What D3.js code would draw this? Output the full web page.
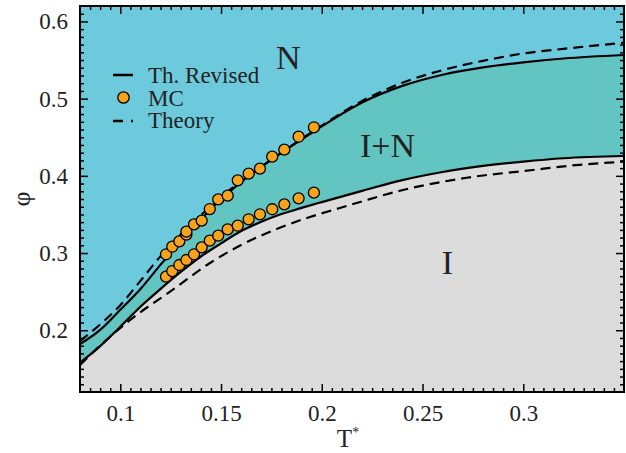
<!DOCTYPE html>
<html>
<head>
<meta charset="utf-8">
<script src="https://cdn.jsdelivr.net/npm/d3@7"></script>
<style>
  body { margin: 0; background: #fff; }
  svg { display: block; }
  text { font-family: "Liberation Serif", "Times New Roman", serif; fill: #222; }
</style>
</head>
<body>
<svg id="chart" width="626" height="453"></svg>
<script>
// revised theory binodals (solid lines)
const revisedT     = [0.08, 0.09, 0.10, 0.11, 0.12, 0.13, 0.14, 0.15, 0.16, 0.17, 0.18, 0.19, 0.20, 0.22, 0.24, 0.26, 0.28, 0.30, 0.32, 0.35];
const revisedUpper = [0.182, 0.2005, 0.2265, 0.2535, 0.285, 0.315, 0.3435, 0.370, 0.392, 0.4115, 0.430, 0.447, 0.464, 0.495, 0.5165, 0.531, 0.5405, 0.547, 0.552, 0.5565];
const revisedLower = [0.158, 0.1795, 0.2045, 0.2305, 0.2535, 0.2755, 0.2955, 0.3125, 0.3285, 0.3405, 0.3505, 0.3585, 0.366, 0.3805, 0.3945, 0.405, 0.4128, 0.4185, 0.4228, 0.4257];

// original theory (dashed lines)
const theoryUpperT = [0.08, 0.09, 0.10, 0.11, 0.12, 0.13, 0.14, 0.15, 0.16, 0.17, 0.18, 0.19, 0.20, 0.22, 0.24, 0.26, 0.28, 0.30, 0.32, 0.35];
const theoryUpper  = [0.186, 0.2075, 0.2325, 0.264, 0.296, 0.324, 0.349, 0.373, 0.393, 0.412, 0.430, 0.448, 0.465, 0.497, 0.5205, 0.537, 0.549, 0.5585, 0.5645, 0.5725];
const theoryLowerT = [0.08, 0.0949, 0.1081, 0.1247, 0.1445, 0.161, 0.1776, 0.1941, 0.209, 0.2223, 0.2388, 0.2719, 0.3048, 0.3215, 0.35];
const theoryLower  = [0.155, 0.1916, 0.2197, 0.2499, 0.2871, 0.3117, 0.3311, 0.3467, 0.3583, 0.3687, 0.3807, 0.3975, 0.4076, 0.4127, 0.4183];

// Monte Carlo points
const mcUpperT   = [0.1227, 0.1258, 0.1293, 0.1328, 0.1328, 0.1366, 0.1404, 0.1444, 0.1486, 0.1533, 0.1583, 0.1637, 0.1693, 0.1754, 0.1814, 0.1885, 0.1961];
const mcUpperPhi = [0.2984, 0.3082, 0.3152, 0.3238, 0.3277, 0.3372, 0.3419, 0.3570, 0.3696, 0.3743, 0.3942, 0.4028, 0.4093, 0.4248, 0.4339, 0.4507, 0.4629];
const mcLowerT   = [0.1227, 0.1258, 0.1293, 0.1328, 0.1366, 0.1404, 0.1444, 0.1486, 0.1533, 0.1583, 0.1637, 0.1693, 0.1754, 0.1814, 0.1885, 0.1961];
const mcLowerPhi = [0.2694, 0.2767, 0.2845, 0.2910, 0.2984, 0.3074, 0.3160, 0.3225, 0.3307, 0.3354, 0.3437, 0.3502, 0.3567, 0.3631, 0.3709, 0.3782];

const xTicks = [0.1, 0.15, 0.2, 0.25, 0.3];
const yTicks = [0.2, 0.3, 0.4, 0.5, 0.6];
const phaseLabels = [
  {text: "N",   T: 0.1773, phi: 0.538},
  {text: "I+N", T: 0.219,  phi: 0.4245},
  {text: "I",   T: 0.2595, phi: 0.2728}
];
const legendItems = ["Th. Revised", "MC", "Theory"];

const mLeft = 80, mRight = 624, mTop = 6, mBottom = 392;
const svg = d3.select("#chart");

const x = d3.scaleLinear().domain([0.08, 0.35]).range([mLeft, mRight]);
const y = d3.scaleLinear().domain([0.12, 0.62]).range([mBottom, mTop]);

const zip = (ts, ps) => ts.map((t, i) => [t, ps[i]]);
const line = d3.line().x(d => x(d[0])).y(d => y(d[1])).curve(d3.curveMonotoneX);

svg.append("clipPath").attr("id", "plotclip")
  .append("rect").attr("x", mLeft).attr("y", mTop).attr("width", mRight - mLeft).attr("height", mBottom - mTop);

const plot = svg.append("g").attr("clip-path", "url(#plotclip)");

// N region (whole background)
plot.append("rect")
  .attr("x", mLeft).attr("y", mTop).attr("width", mRight - mLeft).attr("height", mBottom - mTop)
  .attr("fill", "#6dcadc");

// I+N coexistence region
const band = revisedT.map((t, i) => ({t: t, lo: revisedLower[i], hi: revisedUpper[i]}));
plot.append("path")
  .datum(band)
  .attr("fill", "#62c5c1")
  .attr("d", d3.area().x(d => x(d.t)).y0(d => y(d.lo)).y1(d => y(d.hi)).curve(d3.curveMonotoneX));

// I region
plot.append("path")
  .datum(band)
  .attr("fill", "#dcdcdc")
  .attr("d", d3.area().x(d => x(d.t)).y0(y(0.12)).y1(d => y(d.lo)).curve(d3.curveMonotoneX));

// dashed theory
[zip(theoryUpperT, theoryUpper), zip(theoryLowerT, theoryLower)].forEach(pts => {
  plot.append("path").datum(pts)
    .attr("fill", "none").attr("stroke", "#000").attr("stroke-width", 2.2)
    .attr("stroke-dasharray", "10,6")
    .attr("d", line);
});

// solid revised
[zip(revisedT, revisedUpper), zip(revisedT, revisedLower)].forEach(pts => {
  plot.append("path").datum(pts)
    .attr("fill", "none").attr("stroke", "#000").attr("stroke-width", 2.2)
    .attr("d", line);
});

// MC circles
const mc = zip(mcUpperT, mcUpperPhi).concat(zip(mcLowerT, mcLowerPhi));
plot.append("g").selectAll("circle")
  .data(mc).join("circle")
  .attr("cx", d => x(d[0])).attr("cy", d => y(d[1])).attr("r", 5.5)
  .attr("fill", "#f8a31c").attr("stroke", "#000").attr("stroke-width", 1.3);

// phase labels
svg.append("g").selectAll("text")
  .data(phaseLabels).join("text")
  .attr("x", d => x(d.T)).attr("y", d => y(d.phi))
  .attr("font-size", 34)
  .text(d => d.text);

// legend
const lg = svg.append("g");
lg.append("line").attr("x1", 113).attr("x2", 133).attr("y1", 75).attr("y2", 75)
  .attr("stroke", "#000").attr("stroke-width", 2.5);
lg.append("circle").attr("cx", 123.5).attr("cy", 97.5).attr("r", 5.7)
  .attr("fill", "#f8a31c").attr("stroke", "#000").attr("stroke-width", 1.3);
lg.append("line").attr("x1", 113).attr("x2", 133).attr("y1", 121).attr("y2", 121)
  .attr("stroke", "#000").attr("stroke-width", 2.5).attr("stroke-dasharray", "10,8");
lg.selectAll("text").data(legendItems).join("text")
  .attr("x", 148).attr("y", (d, i) => 83 + i * 22.5)
  .attr("font-size", 23)
  .text(d => d);

// axes: ticks on all four sides, pointing inward
function styleAxis(g) {
  g.select(".domain").remove();
  g.selectAll(".tick line").attr("stroke", "#000").attr("stroke-width", 1.5);
  g.selectAll(".tick text").attr("font-family", "Liberation Serif, serif").attr("font-size", 23).attr("fill", "#222");
}
const xMinor = d3.range(0.085, 0.35, 0.005).filter(v => Math.abs(v * 20 - Math.round(v * 20)) > 1e-6);
const yMinor = d3.range(0.13, 0.62, 0.01).filter(v => Math.abs(v * 10 - Math.round(v * 10)) > 1e-6);

svg.append("g").attr("transform", `translate(0,${mBottom})`)
  .call(d3.axisBottom(x).tickValues(xTicks).tickSize(-8).tickPadding(13).tickFormat(d3.format("")))
  .call(styleAxis);
svg.append("g").attr("transform", `translate(0,${mBottom})`)
  .call(d3.axisBottom(x).tickValues(xMinor).tickSize(-4).tickFormat(""))
  .call(styleAxis);
svg.append("g").attr("transform", `translate(0,${mTop})`)
  .call(d3.axisTop(x).tickValues(xTicks).tickSize(-8).tickFormat(""))
  .call(styleAxis);
svg.append("g").attr("transform", `translate(0,${mTop})`)
  .call(d3.axisTop(x).tickValues(xMinor).tickSize(-4).tickFormat(""))
  .call(styleAxis);

svg.append("g").attr("transform", `translate(${mLeft},0)`)
  .call(d3.axisLeft(y).tickValues(yTicks).tickSize(-8).tickPadding(12).tickFormat(d3.format("")))
  .call(styleAxis);
svg.append("g").attr("transform", `translate(${mLeft},0)`)
  .call(d3.axisLeft(y).tickValues(yMinor).tickSize(-4).tickFormat(""))
  .call(styleAxis);
svg.append("g").attr("transform", `translate(${mRight},0)`)
  .call(d3.axisRight(y).tickValues(yTicks).tickSize(-8).tickFormat(""))
  .call(styleAxis);
svg.append("g").attr("transform", `translate(${mRight},0)`)
  .call(d3.axisRight(y).tickValues(yMinor).tickSize(-4).tickFormat(""))
  .call(styleAxis);

// frame
svg.append("rect")
  .attr("x", mLeft).attr("y", mTop).attr("width", mRight - mLeft).attr("height", mBottom - mTop)
  .attr("fill", "none").attr("stroke", "#000").attr("stroke-width", 2);

// axis titles
const xt = svg.append("text").attr("x", 348).attr("y", 447)
  .attr("text-anchor", "middle").attr("font-size", 25);
xt.append("tspan").text("T");
xt.append("tspan").attr("font-size", 14).attr("dy", -10).text("*");

svg.append("text")
  .attr("transform", `translate(30,${(mTop + mBottom) / 2}) rotate(-90)`)
  .attr("text-anchor", "middle").attr("font-size", 26)
  .text("φ");
</script>
</body>
</html>
